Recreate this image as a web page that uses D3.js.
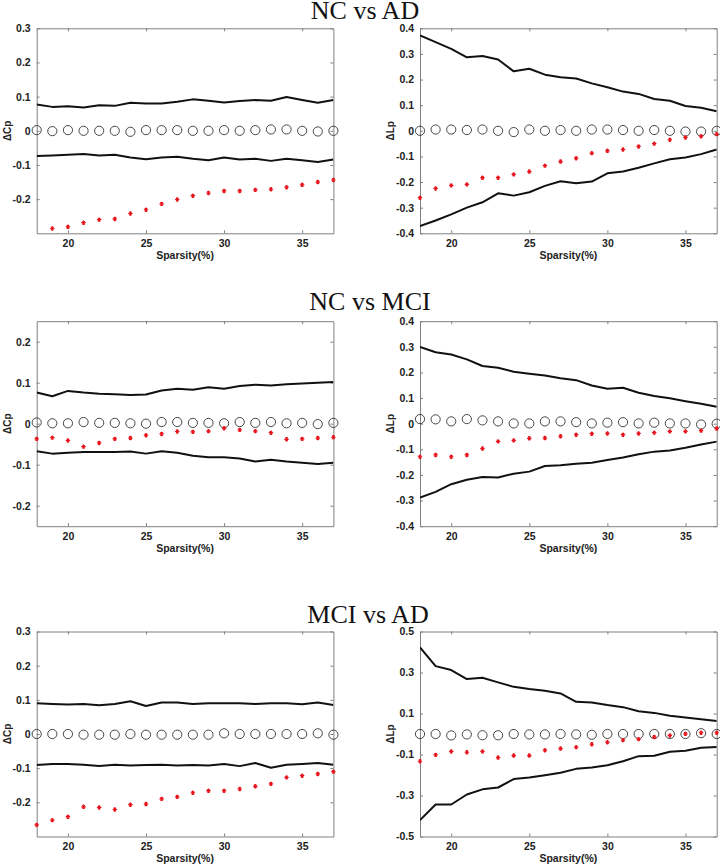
<!DOCTYPE html>
<html>
<head>
<meta charset="utf-8">
<script src="https://cdn.jsdelivr.net/npm/d3@7"></script>
<style>
  html, body { margin: 0; padding: 0; background: #fff; }
  svg { display: block; }
</style>
</head>
<body>
<svg id="chart" width="720" height="866"></svg>
<script>
// ---------------- DATA ----------------
const sparsity = [18,19,20,21,22,23,24,25,26,27,28,29,30,31,32,33,34,35,36,37];
const xTicks = [20, 25, 30, 35];
const titles = ["NC vs AD", "NC vs MCI", "MCI vs AD"];

// NC vs AD, ΔCp
const ncAdCpUpper = [0.077,0.070,0.072,0.068,0.075,0.073,0.082,0.080,0.080,0.085,0.092,0.088,0.083,0.087,0.090,0.088,0.099,0.090,0.082,0.090];
const ncAdCpLower = [-0.074,-0.072,-0.070,-0.068,-0.072,-0.070,-0.078,-0.083,-0.078,-0.076,-0.082,-0.086,-0.078,-0.084,-0.082,-0.088,-0.082,-0.086,-0.091,-0.084];
const ncAdCpNull  = [0.002,-0.001,0.002,0,0,0,-0.003,0.002,0.002,0.002,0,0,0.002,0,0.002,0.004,0.004,0,-0.002,0];
const ncAdCpDiff  = [null,-0.286,-0.281,-0.269,-0.260,-0.258,-0.242,-0.231,-0.214,-0.201,-0.190,-0.182,-0.176,-0.176,-0.173,-0.171,-0.165,-0.158,-0.150,-0.144];
const ncAdCpTicks = [-0.2,-0.1,0,0.1,0.2,0.3];

// NC vs AD, ΔLp
const ncAdLpUpper = [0.372,0.346,0.320,0.287,0.292,0.278,0.232,0.242,0.219,0.209,0.204,0.185,0.170,0.153,0.144,0.124,0.117,0.097,0.090,0.076];
const ncAdLpLower = [-0.372,-0.350,-0.326,-0.300,-0.279,-0.244,-0.253,-0.240,-0.215,-0.197,-0.205,-0.198,-0.166,-0.159,-0.144,-0.127,-0.111,-0.104,-0.091,-0.073];
const ncAdLpNull  = [0,0.005,0.005,0.003,0.005,0,-0.005,0.005,0,0.003,0,0.005,0.005,0.003,0,0.003,0,-0.003,-0.003,0];
const ncAdLpDiff  = [-0.261,-0.225,-0.213,-0.209,-0.183,-0.183,-0.170,-0.159,-0.136,-0.120,-0.107,-0.087,-0.078,-0.073,-0.061,-0.050,-0.035,-0.026,-0.021,-0.013];
const ncAdLpTicks = [-0.4,-0.3,-0.2,-0.1,0,0.1,0.2,0.3,0.4];

// NC vs MCI, ΔCp
const ncMciCpUpper = [0.076,0.067,0.080,0.076,0.073,0.072,0.070,0.071,0.081,0.085,0.083,0.089,0.085,0.092,0.095,0.093,0.096,0.098,0.100,0.102];
const ncMciCpLower = [-0.067,-0.073,-0.071,-0.069,-0.069,-0.069,-0.068,-0.073,-0.067,-0.071,-0.078,-0.082,-0.082,-0.085,-0.092,-0.088,-0.092,-0.095,-0.098,-0.095];
const ncMciCpNull  = [0.003,0.001,0.001,0.004,0.002,0.002,0.001,0,0.004,0.004,0.002,0.002,0.001,0.004,0.002,0.004,0.001,0.002,-0.001,0.002];
const ncMciCpDiff  = [-0.037,-0.034,-0.041,-0.056,-0.047,-0.037,-0.035,-0.028,-0.025,-0.019,-0.020,-0.018,-0.011,-0.015,-0.018,-0.022,-0.038,-0.037,-0.035,-0.033];
const ncMciCpTicks = [-0.2,-0.1,0,0.1,0.2];

// NC vs MCI, ΔLp
const ncMciLpUpper = [0.300,0.279,0.270,0.251,0.225,0.218,0.203,0.195,0.188,0.177,0.170,0.149,0.136,0.140,0.121,0.108,0.099,0.088,0.078,0.066];
const ncMciLpLower = [-0.288,-0.266,-0.236,-0.219,-0.208,-0.210,-0.195,-0.187,-0.165,-0.162,-0.156,-0.152,-0.142,-0.132,-0.119,-0.109,-0.105,-0.094,-0.081,-0.070];
const ncMciLpNull  = [0.018,0.017,0.009,0.018,0.013,0.009,0.001,0.001,0.009,0.009,0.006,0.001,0.004,0.006,0.001,0.004,0.001,0.001,-0.003,0];
const ncMciLpDiff  = [-0.129,-0.122,-0.129,-0.122,-0.097,-0.069,-0.065,-0.057,-0.056,-0.049,-0.043,-0.039,-0.038,-0.043,-0.038,-0.035,-0.030,-0.030,-0.027,-0.019];
const ncMciLpTicks = [-0.4,-0.3,-0.2,-0.1,0,0.1,0.2,0.3,0.4];

// MCI vs AD, ΔCp
const mciAdCpUpper = [0.090,0.088,0.086,0.088,0.084,0.088,0.096,0.082,0.092,0.092,0.088,0.090,0.090,0.090,0.088,0.090,0.090,0.087,0.092,0.085];
const mciAdCpLower = [-0.091,-0.088,-0.088,-0.090,-0.094,-0.090,-0.092,-0.091,-0.090,-0.092,-0.091,-0.092,-0.088,-0.094,-0.085,-0.099,-0.090,-0.088,-0.085,-0.090];
const mciAdCpNull  = [0,0,0,-0.002,-0.002,-0.002,0,-0.002,-0.002,-0.002,-0.002,-0.002,0.002,0,0,0,0,0,0.002,-0.002];
const mciAdCpDiff  = [-0.266,-0.252,-0.242,-0.213,-0.215,-0.221,-0.207,-0.205,-0.190,-0.184,-0.172,-0.166,-0.166,-0.161,-0.153,-0.146,-0.127,-0.122,-0.117,-0.110];
const mciAdCpTicks = [-0.2,-0.1,0,0.1,0.2,0.3];

// MCI vs AD, ΔLp
const mciAdLpUpper = [0.422,0.331,0.312,0.268,0.274,0.252,0.230,0.219,0.211,0.198,0.157,0.154,0.141,0.131,0.111,0.103,0.089,0.080,0.072,0.063];
const mciAdLpLower = [-0.420,-0.344,-0.344,-0.295,-0.270,-0.261,-0.220,-0.212,-0.201,-0.189,-0.170,-0.163,-0.152,-0.133,-0.108,-0.106,-0.087,-0.082,-0.067,-0.064];
const mciAdLpNull  = [0,0,-0.007,-0.002,-0.006,-0.006,0,-0.002,-0.002,0,-0.002,-0.004,0,0,0,0,0,0,0.004,0];
const mciAdLpDiff  = [-0.133,-0.102,-0.085,-0.089,-0.085,-0.115,-0.105,-0.105,-0.079,-0.071,-0.064,-0.050,-0.040,-0.030,-0.025,-0.015,-0.007,0.001,0.006,0.006];
const mciAdLpTicks = [-0.5,-0.3,-0.1,0.1,0.3,0.5];

// ---------------- LAYOUT ----------------
const svg = d3.select("#chart");
const plotW = 296.7, plotH = 205;
const colX = [36.7, 420];
const rowY = [28.3, 321.2, 631.5];
const titleLayout = [{x: 365, y: 18.5}, {x: 370, y: 309.5}, {x: 368, y: 622.5}];

const panels = [
  {row:0, col:0, ylab:"\u0394Cp", dom:[-0.3,0.3], ticks:ncAdCpTicks, up:ncAdCpUpper, lo:ncAdCpLower, nul:ncAdCpNull, diff:ncAdCpDiff},
  {row:0, col:1, ylab:"\u0394Lp", dom:[-0.4,0.4], ticks:ncAdLpTicks, up:ncAdLpUpper, lo:ncAdLpLower, nul:ncAdLpNull, diff:ncAdLpDiff},
  {row:1, col:0, ylab:"\u0394Cp", dom:[-0.25,0.25], ticks:ncMciCpTicks, up:ncMciCpUpper, lo:ncMciCpLower, nul:ncMciCpNull, diff:ncMciCpDiff},
  {row:1, col:1, ylab:"\u0394Lp", dom:[-0.4,0.4], ticks:ncMciLpTicks, up:ncMciLpUpper, lo:ncMciLpLower, nul:ncMciLpNull, diff:ncMciLpDiff},
  {row:2, col:0, ylab:"\u0394Cp", dom:[-0.3,0.3], ticks:mciAdCpTicks, up:mciAdCpUpper, lo:mciAdCpLower, nul:mciAdCpNull, diff:mciAdCpDiff},
  {row:2, col:1, ylab:"\u0394Lp", dom:[-0.5,0.5], ticks:mciAdLpTicks, up:mciAdLpUpper, lo:mciAdLpLower, nul:mciAdLpNull, diff:mciAdLpDiff}
];

// Titles
titles.forEach((t, i) => {
  svg.append("text")
    .attr("x", titleLayout[i].x).attr("y", titleLayout[i].y)
    .attr("text-anchor", "middle")
    .attr("font-family", "'Liberation Serif', 'Times New Roman', serif")
    .attr("font-size", 26)
    .attr("fill", "#111")
    .text(t);
});

const fmt = d => Math.abs(d) < 1e-9 ? "0" : d.toFixed(1);
const boxColor = "#808080";
const labelFont = "'Liberation Sans', Arial, sans-serif";
const asterisk = "M-2.2,0H2.2M-1.1,-1.9L1.1,1.9M1.1,-1.9L-1.1,1.9M0,-2.2V2.2";

panels.forEach((p, idx) => {
  const x0 = colX[p.col], y0 = rowY[p.row];
  const g = svg.append("g").attr("transform", `translate(${x0},${y0})`);
  const x = d3.scaleLinear().domain([18, 37]).range([0, plotW]);
  const y = d3.scaleLinear().domain(p.dom).range([plotH, 0]);

  const clipId = "clip" + idx;
  g.append("clipPath").attr("id", clipId)
    .append("rect").attr("width", plotW).attr("height", plotH);

  // Axes (ticks inside, MATLAB style)
  const axB = d3.axisBottom(x).tickValues(xTicks).tickSizeInner(-3).tickSizeOuter(0).tickPadding(6);
  const axT = d3.axisTop(x).tickValues(xTicks).tickSizeInner(-3).tickSizeOuter(0).tickFormat("");
  const axL = d3.axisLeft(y).tickValues(p.ticks).tickSizeInner(-3).tickSizeOuter(0).tickPadding(6).tickFormat(fmt);
  const axR = d3.axisRight(y).tickValues(p.ticks).tickSizeInner(-3).tickSizeOuter(0).tickFormat("");

  const styleAxis = sel => {
    sel.select(".domain").attr("stroke", boxColor).attr("stroke-width", 1);
    sel.selectAll(".tick line").attr("stroke", boxColor).attr("stroke-width", 1);
    sel.selectAll(".tick text")
      .attr("font-family", labelFont).attr("font-size", 10.5)
      .attr("font-weight", "bold").attr("fill", "#222");
  };
  g.append("g").attr("transform", `translate(0,${plotH})`).call(axB).call(styleAxis);
  g.append("g").call(axT).call(styleAxis);
  g.append("g").call(axL).call(styleAxis);
  g.append("g").attr("transform", `translate(${plotW},0)`).call(axR).call(styleAxis);

  // Axis labels
  g.append("text")
    .attr("x", plotW / 2).attr("y", plotH + 25.5)
    .attr("text-anchor", "middle")
    .attr("font-family", labelFont).attr("font-size", 10.5).attr("font-weight", "bold")
    .attr("fill", "#222")
    .text("Sparsity(%)");
  g.append("text")
    .attr("transform", `translate(${-26},${plotH / 2}) rotate(-90)`)
    .attr("text-anchor", "middle")
    .attr("font-family", labelFont).attr("font-size", 10).attr("font-weight", "bold")
    .attr("fill", "#222")
    .text(p.ylab);

  // Lines
  const line = d3.line().x((d, i) => x(sparsity[i])).y(d => y(d));
  const lines = g.append("g").attr("clip-path", `url(#${clipId})`);
  [p.up, p.lo].forEach(arr => {
    lines.append("path").datum(arr)
      .attr("d", line)
      .attr("fill", "none").attr("stroke", "#111").attr("stroke-width", 2)
      .attr("stroke-linejoin", "round");
  });

  // Null-model circles
  g.append("g").selectAll("circle").data(p.nul).join("circle")
    .attr("cx", (d, i) => x(sparsity[i])).attr("cy", d => y(d))
    .attr("r", 4.6)
    .attr("fill", "none").attr("stroke", "#333").attr("stroke-width", 0.9);

  // Red difference markers
  g.append("g").selectAll("path").data(p.diff.map((d, i) => ({v: d, s: sparsity[i]})).filter(d => d.v !== null))
    .join("path")
    .attr("transform", d => `translate(${x(d.s)},${y(d.v)})`)
    .attr("d", asterisk)
    .attr("stroke", "#e8141c").attr("stroke-width", 1.2).attr("fill", "none");
});
</script>
</body>
</html>
